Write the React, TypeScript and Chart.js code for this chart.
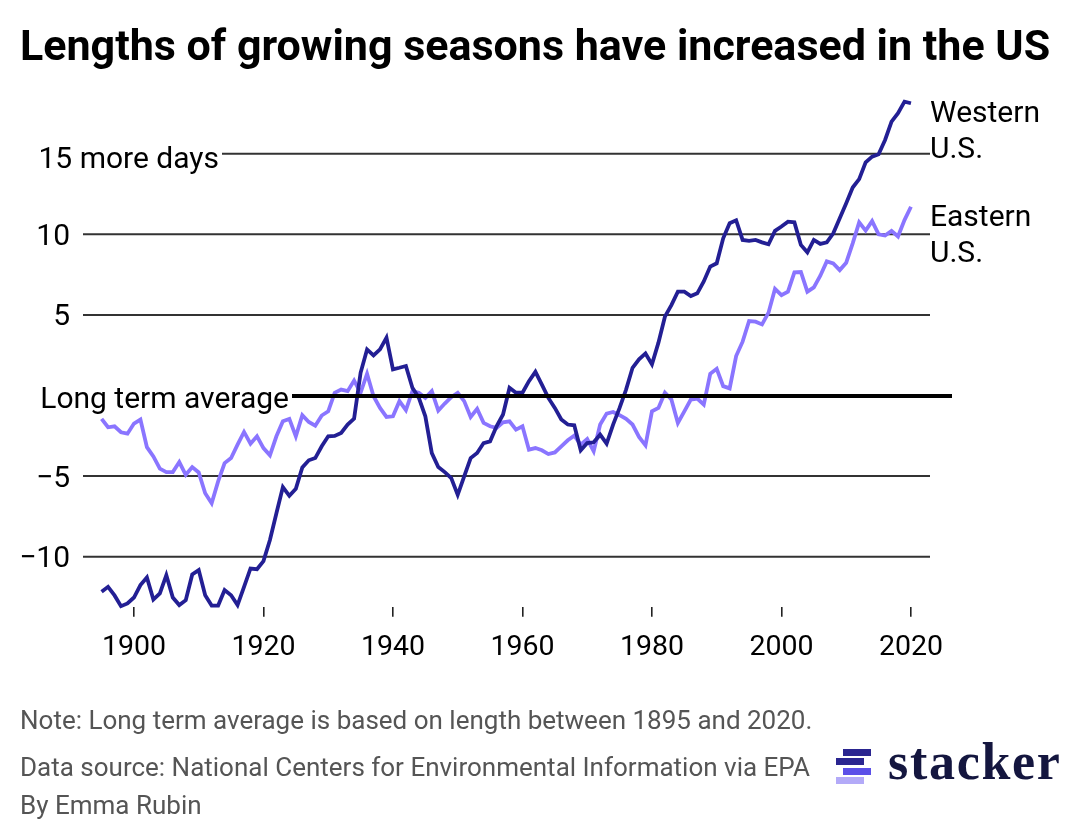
import React, { useRef, useEffect } from 'react';
import { Chart, registerables } from 'chart.js';

Chart.register(...registerables);

const years = Array.from({ length: 126 }, (_, i) => 1895 + i);

const western = [
  -12.18, -11.87, -12.4, -13.07, -12.9, -12.53, -11.76, -11.29, -12.66, -12.28,
  -11.14, -12.53, -13.0, -12.7, -11.1, -10.83, -12.39, -13.03, -13.03, -12.07,
  -12.39, -13.0, -11.87, -10.73, -10.77, -10.27, -8.96, -7.3, -5.68, -6.22,
  -5.79, -4.46, -4.02, -3.88, -3.15, -2.53, -2.51, -2.32, -1.8, -1.43,
  1.41, 2.86, 2.49, 2.86, 3.59, 1.62, 1.72, 1.83, 0.48, -0.15,
  -1.29, -3.57, -4.44, -4.75, -5.12, -6.16, -5.02, -3.88, -3.57, -2.95,
  -2.84, -1.91, -1.18, 0.48, 0.17, 0.17, 0.89, 1.47, 0.68, -0.15,
  -0.77, -1.49, -1.8, -1.85, -3.4, -2.95, -2.9, -2.43, -2.99, -1.8,
  -0.77, 0.37, 1.72, 2.24, 2.61, 1.93, 3.28, 4.89, 5.61, 6.44,
  6.44, 6.17, 6.34, 7.07, 8.0, 8.2, 9.75, 10.69, 10.87, 9.65,
  9.59, 9.65, 9.5, 9.38, 10.21, 10.48, 10.78, 10.74, 9.34, 8.88,
  9.65, 9.4, 9.5, 10.06, 10.99, 11.92, 12.9, 13.42, 14.46, 14.82,
  14.96, 15.85, 16.99, 17.51, 18.23, 18.13,
];

const eastern = [
  -1.45, -1.97, -1.91, -2.28, -2.37, -1.74, -1.49, -3.2, -3.78, -4.54,
  -4.75, -4.75, -4.13, -4.92, -4.44, -4.77, -6.06, -6.68, -5.33, -4.19,
  -3.88, -3.05, -2.26, -2.99, -2.53, -3.26, -3.71, -2.53, -1.6, -1.45,
  -2.53, -1.22, -1.64, -1.87, -1.24, -0.98, 0.17, 0.37, 0.27, 0.93,
  0.17, 1.35, -0.04, -0.77, -1.33, -1.29, -0.35, -0.91, 0.27, 0.17,
  -0.15, 0.27, -0.93, -0.5, -0.1, 0.17, -0.35, -1.33, -0.83, -1.7,
  -1.91, -2.01, -1.66, -1.6, -2.12, -1.91, -3.36, -3.26, -3.4, -3.63,
  -3.53, -3.15, -2.78, -2.49, -3.05, -2.7, -3.46, -1.8, -1.12, -1.02,
  -1.22, -1.45, -1.8, -2.57, -3.09, -0.98, -0.77, 0.17, -0.25, -1.7,
  -0.98, -0.25, -0.19, -0.56, 1.35, 1.66, 0.58, 0.44, 2.45, 3.34,
  4.62, 4.58, 4.41, 5.14, 6.61, 6.22, 6.44, 7.64, 7.66, 6.44,
  6.71, 7.43, 8.32, 8.2, 7.78, 8.24, 9.44, 10.74, 10.23, 10.82,
  10.0, 9.92, 10.21, 9.86, 10.88, 11.71,
];

const xTicks = [1900, 1920, 1940, 1960, 1980, 2000, 2020];
const yTicks = [-10, -5, 0, 5, 10, 15];

const FONT = 'Roboto';

// grid lines, the 15 and 0 ones start after their long labels, and the labels beside the lines
const linesPlugin = {
  id: 'lines',
  beforeDatasetsDraw(chart: Chart) {
    const { ctx, chartArea, scales } = chart;
    ctx.save();
    ctx.strokeStyle = '#333333';
    ctx.lineWidth = 2;
    for (const v of yTicks) {
      if (v === 0) continue;
      const y = scales.y.getPixelForValue(v);
      ctx.beginPath();
      ctx.moveTo(v === 15 ? 222 : chartArea.left, y);
      ctx.lineTo(chartArea.right, y);
      ctx.stroke();
    }
    ctx.restore();
  },
  afterDatasetsDraw(chart: Chart) {
    const { ctx, scales } = chart;
    const y0 = scales.y.getPixelForValue(0) + 0.5;
    ctx.save();
    ctx.strokeStyle = '#000000';
    ctx.lineWidth = 4;
    ctx.beginPath();
    ctx.moveTo(292, y0);
    ctx.lineTo(952, y0);
    ctx.stroke();

    ctx.fillStyle = '#000000';
    ctx.font = `30px ${FONT}`;
    ctx.textBaseline = 'alphabetic';
    ctx.textAlign = 'right';
    ctx.fillText('15 more days', 219, 168);
    ctx.fillText('Long term average', 289, 407.5);
    ctx.textAlign = 'left';
    ctx.fillText('Western', 930, 121.5);
    ctx.fillText('U.S.', 930, 158);
    ctx.fillText('Eastern', 930, 226);
    ctx.fillText('U.S.', 930, 262);
    ctx.restore();
  },
};

const App: React.FC = () => {
  const chartRef = useRef<HTMLCanvasElement | null>(null);

  useEffect(() => {
    if (!chartRef.current) return;
    const chart = new Chart(chartRef.current, {
      type: 'line',
      data: {
        labels: years,
        datasets: [
          {
            label: 'Western U.S.',
            data: years.map((x, i) => ({ x, y: western[i] })),
            borderColor: '#231f94',
            borderWidth: 3.8,
            pointRadius: 0,
            tension: 0,
            clip: false,
          },
          {
            label: 'Eastern U.S.',
            data: years.map((x, i) => ({ x, y: eastern[i] })),
            borderColor: '#8a75ff',
            borderWidth: 3.8,
            pointRadius: 0,
            tension: 0,
            clip: false,
          },
        ],
      },
      options: {
        animation: false,
        responsive: false,
        devicePixelRatio: 1,
        layout: { padding: { top: 89.2, bottom: 183.3, left: 0, right: 150 } },
        plugins: { legend: { display: false }, title: { display: false }, tooltip: { enabled: false } },
        scales: {
          x: {
            type: 'linear',
            min: 1892.13,
            max: 2022.94,
            afterBuildTicks: (scale) => {
              scale.ticks = xTicks.map((value) => ({ value }));
            },
            afterFit: (scale) => {
              scale.height = 50;
            },
            border: { display: false },
            grid: { drawOnChartArea: false, drawTicks: true, tickLength: 10, color: '#222222', lineWidth: 1.6 },
            ticks: {
              autoSkip: false,
              maxRotation: 0,
              padding: 14.5,
              color: '#000000',
              font: { family: FONT, size: 28.5 },
              callback: (v) => String(v),
            },
          },
          y: {
            min: -13.1,
            max: 19,
            afterBuildTicks: (scale) => {
              scale.ticks = yTicks.map((value) => ({ value }));
            },
            afterFit: (scale) => {
              scale.width = 83;
            },
            border: { display: false },
            grid: { display: false, drawTicks: false },
            ticks: {
              autoSkip: false,
              padding: 13,
              labelOffset: 3,
              color: '#000000',
              font: { family: FONT, size: 30 },
              // 0 and 15 have long labels, those are drawn by the plugin
              callback: (v) => (v === 0 || v === 15 ? '' : String(v).replace('-', '\u2212')),
            },
          },
        },
      },
      plugins: [linesPlugin],
    });
    return () => chart.destroy();
  }, []);

  const note = { position: 'absolute', left: 20, fontSize: 26, color: '#555555', whiteSpace: 'nowrap', lineHeight: '28px' } as const;
  const bar = (left: number, top: number, background: string) => (
    <div style={{ position: 'absolute', left, top, width: 28, height: 6.5, background }} />
  );

  return (
    <div style={{ position: 'absolute', left: 0, top: 0, width: 1080, height: 840, background: '#fff', fontFamily: FONT, overflow: 'hidden' }}>
      <canvas ref={chartRef} width={1080} height={840} style={{ position: 'absolute', left: 0, top: 0 }} />
      <div style={{ position: 'absolute', left: 20, top: 21, fontSize: 43, fontWeight: 700, color: '#000', whiteSpace: 'nowrap', lineHeight: '48px' }}>
        Lengths of growing seasons have increased in the US
      </div>
      <div style={{ ...note, top: 706 }}>Note: Long term average is based on length between 1895 and 2020.</div>
      <div style={{ ...note, top: 753 }}>Data source: National Centers for Environmental Information via EPA</div>
      <div style={{ ...note, top: 791 }}>By Emma Rubin</div>
      {bar(843, 749, '#2a2590')}
      {bar(836, 758, '#2a2590')}
      {bar(843, 768, '#5b4fe8')}
      {bar(836, 777, '#b3aaf8')}
      <div style={{ position: 'absolute', left: 888, top: 734, fontFamily: '"Liberation Serif"', fontWeight: 700, fontSize: 52, letterSpacing: 1.7, color: '#14163f', lineHeight: '56px', whiteSpace: 'nowrap' }}>
        stacker
      </div>
    </div>
  );
};

export default App;
